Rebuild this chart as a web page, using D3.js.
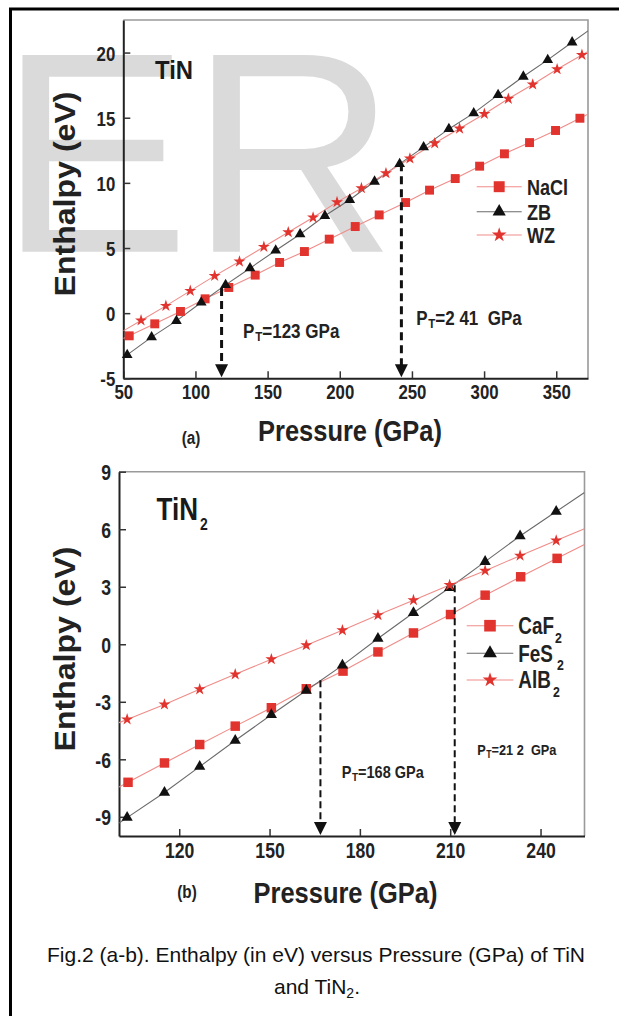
<!DOCTYPE html>
<html>
<head>
<meta charset="utf-8">
<script src="https://cdn.jsdelivr.net/npm/d3@7"></script>
<style>
  body { margin: 0; background: #fff; }
  svg { display: block; }
</style>
</head>
<body>
<script>
// ---- data ----
// (a) TiN
var naclP = [54.1, 71.8, 89.6, 106.7, 123.1, 141.4, 158.3, 175.5, 192.7, 210.7, 227.3, 245.6, 262.2, 280.0, 296.9, 314.1, 331.5, 349.5, 366.4];
var naclH = [-1.74, -0.82, 0.13, 1.10, 1.97, 2.92, 3.89, 4.73, 5.68, 6.65, 7.54, 8.49, 9.44, 10.33, 11.28, 12.23, 13.09, 14.02, 14.96];
var zbP = [52.7, 69.6, 86.8, 104.0, 120.9, 137.8, 155.6, 172.5, 189.7, 206.9, 224.1, 241.5, 258.1, 275.6, 292.8, 309.7, 327.2, 344.1, 361.0];
var zbH = [-3.20, -1.84, -0.59, 0.82, 2.17, 3.45, 4.81, 6.06, 7.47, 8.70, 10.10, 11.46, 12.74, 14.14, 15.35, 16.75, 18.16, 19.44, 20.79];
var wzP = [62.3, 79.5, 96.4, 113.3, 130.5, 147.4, 164.3, 181.5, 198.1, 215.0, 232.0, 248.6, 265.8, 283.0, 300.2, 316.8, 333.7, 350.6, 367.8];
var wzH = [-0.56, 0.56, 1.71, 2.86, 3.96, 5.09, 6.21, 7.34, 8.52, 9.59, 10.74, 11.87, 13.04, 14.17, 15.29, 16.45, 17.55, 18.72, 19.82];
var ticksXa = [50, 100, 150, 200, 250, 300, 350];
var ticksYa = [-5, 0, 5, 10, 15, 20];
var arrowsA = [{p: 118.1, h: 1.94}, {p: 242.7, h: 11.5}];
var labelsA = [{p: 133, h: -1.9, rest: "=123 GPa"}, {p: 253, h: -0.9, rest: "=2 41  GPa"}];

// (b) TiN2
var cafP = [103.0, 115.1, 126.8, 138.6, 150.6, 162.2, 174.4, 186.0, 197.8, 210.1, 221.6, 233.4, 245.5];
var cafH = [-7.20, -6.19, -5.23, -4.27, -3.31, -2.32, -1.40, -0.40, 0.59, 1.55, 2.56, 3.52, 4.48];
var fesP = [102.7, 115.1, 126.8, 138.6, 150.6, 162.2, 174.2, 186.0, 197.8, 209.8, 221.6, 233.2, 245.2];
var fesH = [-9.04, -7.73, -6.38, -5.02, -3.68, -2.41, -1.10, 0.30, 1.64, 2.95, 4.31, 5.65, 6.92];
var albP = [102.7, 115.1, 126.8, 138.6, 150.6, 162.2, 174.2, 186.0, 197.8, 209.8, 221.6, 233.2, 245.2];
var albH = [-3.92, -3.14, -2.35, -1.57, -0.78, -0.05, 0.73, 1.52, 2.30, 3.09, 3.84, 4.62, 5.41];
var ticksXb = [120, 150, 180, 210, 240];
var ticksYb = [-9, -6, -3, 0, 3, 6, 9];
var arrowsB = [{p: 166.9, h: -1.88}, {p: 211.5, h: 3.08}];
var labelsB = [{p: 174, h: -7.0, rest: "=168 GPa", fs: 17}, {p: 219, h: -5.8, rest: "=21 2  GPa", fs: 15}];

var FONT = "'Liberation Sans',Arial,Helvetica,sans-serif";
var RED = "#e2342f", RED_LINE = "#ef8c88", BLACK = "#111", GREY_LINE = "#6a6a6a";

// no narrow face is installed: squeeze bold Liberation Sans to Arial Narrow proportions
function squeeze(sel, k) {
    sel.each(function() {
        var w = this.getComputedTextLength();
        d3.select(this).attr("textLength", w * k).attr("lengthAdjust", "spacingAndGlyphs");
    });
}
function fitTo(sel, w) {
    sel.attr("textLength", w).attr("lengthAdjust", "spacingAndGlyphs");
}

var svg = d3.select("body").append("svg")
    .attr("width", 619)
    .attr("height", 1016);

// outer frame (only left & top edges fall inside the picture)
svg.append("path")
    .attr("d", "M10.5,1016 V9 H619")
    .attr("fill", "none")
    .attr("stroke", "#000")
    .attr("stroke-width", 3);

// watermark
svg.append("text")
    .attr("x", -1)
    .attr("y", 251.7)
    .attr("font-family", FONT)
    .attr("font-size", 286)
    .attr("fill", "#dadada")
    .text("ER");

function drawPanel(cfg) {
    var x = d3.scaleLinear().domain(cfg.xDomain).range([cfg.left, cfg.right]);
    var y = d3.scaleLinear().domain(cfg.yDomain).range([cfg.bottom, cfg.top]);
    var g = svg.append("g");

    var clipId = "clip" + cfg.id;
    g.append("clipPath").attr("id", clipId)
        .append("rect")
        .attr("x", cfg.left).attr("y", cfg.top)
        .attr("width", cfg.right - cfg.left).attr("height", cfg.bottom - cfg.top);

    // top/right light frame
    g.append("path")
        .attr("d", "M" + cfg.left + "," + cfg.top + " H" + cfg.right + " V" + cfg.bottom)
        .attr("fill", "none").attr("stroke", "#9a9a9a").attr("stroke-width", 1.6);

    // axes
    var fmt = function(d) { return String(d); };
    var xAxis = d3.axisBottom(x).tickValues(cfg.xTicks).tickFormat(fmt).tickSizeInner(-7).tickSizeOuter(0).tickPadding(6);
    var yAxis = d3.axisLeft(y).tickValues(cfg.yTicks).tickFormat(fmt).tickSizeInner(-7).tickSizeOuter(0).tickPadding(8);

    var gx = g.append("g").attr("transform", "translate(0," + cfg.bottom + ")").call(xAxis);
    var gy = g.append("g").attr("transform", "translate(" + cfg.left + ",0)").call(yAxis);
    [gx, gy].forEach(function(a) {
        a.select(".domain").attr("stroke", "#222").attr("stroke-width", 2);
        a.selectAll(".tick line").attr("stroke", "#333").attr("stroke-width", 1.5);
        a.selectAll(".tick text")
            .attr("font-family", FONT)
            .attr("font-weight", "bold")
            .attr("font-size", cfg.tickFs)
            .attr("fill", "#222")
            .call(squeeze, 0.8);
    });
    gy.selectAll(".tick text").attr("dy", "0.36em");
    gx.selectAll(".tick text").attr("dy", "0.72em");

    // series lines (first/last segment carried on to the frame, clipped)
    var line = d3.line().x(function(d) { return x(d[0]); }).y(function(d) { return y(d[1]); });
    cfg.series.forEach(function(s) {
        var pts = s.p.map(function(p, i) { return [p, s.h[i]]; });
        var n = pts.length;
        var a0 = pts[0], a1 = pts[1], b0 = pts[n - 2], b1 = pts[n - 1];
        var sl0 = (a1[1] - a0[1]) / (a1[0] - a0[0]);
        var sl1 = (b1[1] - b0[1]) / (b1[0] - b0[0]);
        var xl = cfg.xDomain[0], xr = cfg.xDomain[1];
        var full = [[xl, a0[1] + sl0 * (xl - a0[0])]].concat(pts, [[xr, b1[1] + sl1 * (xr - b1[0])]]);
        g.append("path")
            .attr("d", line(full))
            .attr("fill", "none")
            .attr("stroke", s.line)
            .attr("stroke-width", 1.1)
            .attr("clip-path", "url(#" + clipId + ")");
    });

    // markers
    cfg.series.forEach(function(s) {
        g.append("g").selectAll("path")
            .data(s.p.map(function(p, i) { return [p, s.h[i]]; }))
            .enter().append("path")
            .attr("transform", function(d) { return "translate(" + x(d[0]) + "," + y(d[1]) + ")"; })
            .attr("d", d3.symbol().type(s.sym).size(s.size))
            .attr("fill", s.color);
    });

    // transition arrows
    cfg.arrows.forEach(function(a) {
        var ax = x(a.p);
        g.append("line")
            .attr("x1", ax).attr("x2", ax)
            .attr("y1", y(a.h)).attr("y2", cfg.bottom - 10)
            .attr("stroke", "#111")
            .attr("stroke-width", cfg.arrowW)
            .attr("stroke-dasharray", cfg.dash);
        g.append("path")
            .attr("d", "M" + (ax - 6.5) + "," + (cfg.bottom - 14) + " L" + (ax + 6.5) + "," + (cfg.bottom - 14) + " L" + ax + "," + (cfg.bottom - 1) + "Z")
            .attr("fill", "#111");
    });

    cfg.labels.forEach(function(l) {
        var fs = l.fs || cfg.labelFs;
        var t = g.append("text")
            .attr("x", x(l.p)).attr("y", y(l.h))
            .attr("font-family", FONT).attr("font-weight", "bold")
            .attr("font-size", fs).attr("fill", "#222")
            .attr("xml:space", "preserve");
        t.append("tspan").text("P ");
        t.append("tspan").attr("font-size", fs * 0.68).attr("dy", 3).attr("dx", -fs * 0.22).text("T");
        t.append("tspan").attr("dy", -3).text(l.rest);
        t.call(squeeze, 0.82);
    });

    // legend
    cfg.series.forEach(function(s, i) {
        var ly = cfg.legend.y[i];
        g.append("line")
            .attr("x1", cfg.legend.x0).attr("x2", cfg.legend.x1)
            .attr("y1", ly).attr("y2", ly)
            .attr("stroke", s.line).attr("stroke-width", 1.1);
        g.append("path")
            .attr("transform", "translate(" + ((cfg.legend.x0 + cfg.legend.x1) / 2) + "," + ly + ")")
            .attr("d", d3.symbol().type(s.sym).size(s.size * 1.5))
            .attr("fill", s.color);
        g.append("text")
            .attr("x", cfg.legend.tx).attr("y", ly).attr("dy", "0.36em")
            .attr("font-family", FONT).attr("font-weight", "bold")
            .attr("font-size", cfg.legend.fs).attr("fill", "#222")
            .text(s.name)
            .call(squeeze, 0.82);
        if (s.sub) {
            g.append("text")
                .attr("x", cfg.legend.subX[i]).attr("y", ly + 17)
                .attr("font-family", FONT).attr("font-weight", "bold")
                .attr("font-size", 15).attr("fill", "#222")
                .text(s.sub)
                .call(squeeze, 0.82);
        }
    });

    // compound label
    g.append("text")
        .attr("x", cfg.title.x).attr("y", cfg.title.y)
        .attr("font-family", FONT).attr("font-weight", "bold")
        .attr("font-size", cfg.title.fs).attr("fill", "#1a1a1a")
        .text(cfg.title.text)
        .call(fitTo, cfg.title.w);
    if (cfg.title.sub) {
        g.append("text")
            .attr("x", cfg.title.subX).attr("y", cfg.title.y + 10)
            .attr("font-family", FONT).attr("font-weight", "bold")
            .attr("font-size", 17).attr("fill", "#1a1a1a")
            .text(cfg.title.sub)
            .call(squeeze, 0.82);
    }

    // axis titles
    g.append("text")
        .attr("transform", "translate(" + cfg.yTitle.x + "," + cfg.yTitle.y + ") rotate(-90)")
        .attr("text-anchor", "middle").attr("dy", "0.36em")
        .attr("font-family", FONT).attr("font-weight", "bold")
        .attr("font-size", 29).attr("fill", "#222")
        .text("Enthalpy (eV)")
        .call(fitTo, 205);
    g.append("text")
        .attr("x", cfg.xTitle.x).attr("y", cfg.xTitle.y).attr("dy", "0.36em")
        .attr("text-anchor", "middle")
        .attr("font-family", FONT).attr("font-weight", "bold")
        .attr("font-size", 30).attr("fill", "#222")
        .text("Pressure (GPa)")
        .call(fitTo, 184);
    g.append("text")
        .attr("x", cfg.tag.x).attr("y", cfg.tag.y).attr("dy", "0.36em")
        .attr("text-anchor", "middle")
        .attr("font-family", FONT).attr("font-weight", "bold")
        .attr("font-size", 18).attr("fill", "#222")
        .text(cfg.tag.text)
        .call(squeeze, 0.85);
}

drawPanel({
    id: "a",
    left: 123.3, right: 588, top: 20, bottom: 378.3,
    xDomain: [50, 372], yDomain: [-5, 22.5],
    xTicks: ticksXa, yTicks: ticksYa, tickFs: 21,
    series: [
        {name: "NaCl", p: naclP, h: naclH, sym: d3.symbolSquare, size: 80, color: RED, line: RED_LINE},
        {name: "ZB", p: zbP, h: zbH, sym: d3.symbolTriangle, size: 50, color: BLACK, line: GREY_LINE},
        {name: "WZ", p: wzP, h: wzH, sym: d3.symbolStar, size: 45, color: RED, line: RED_LINE}
    ],
    arrows: arrowsA, arrowW: 3, dash: "8,5",
    labels: labelsA, labelFs: 20,
    legend: {x0: 476.7, x1: 521.7, tx: 527, y: [186.7, 211.7, 235], fs: 22},
    title: {text: "TiN", x: 155, y: 79, fs: 26, w: 38},
    yTitle: {x: 65, y: 194},
    xTitle: {x: 350, y: 430},
    tag: {text: "(a)", x: 191, y: 438}
});

drawPanel({
    id: "b",
    left: 119, right: 584.5, top: 471.7, bottom: 836,
    xDomain: [100, 254.6], yDomain: [-10, 9],
    xTicks: ticksXb, yTicks: ticksYb, tickFs: 22,
    series: [
        {name: "CaF", sub: "2", p: cafP, h: cafH, sym: d3.symbolSquare, size: 90, color: RED, line: RED_LINE},
        {name: "FeS", sub: "2", p: fesP, h: fesH, sym: d3.symbolTriangle, size: 55, color: BLACK, line: GREY_LINE},
        {name: "AlB", sub: "2", p: albP, h: albH, sym: d3.symbolStar, size: 45, color: RED, line: RED_LINE}
    ],
    arrows: arrowsB, arrowW: 2, dash: "7,4",
    labels: labelsB, labelFs: 17,
    legend: {x0: 466.7, x1: 513.3, tx: 518.3, y: [625.7, 653.3, 680], fs: 23, subX: [555, 557, 553]},
    title: {text: "TiN", sub: "2", subX: 200, x: 156.5, y: 520, fs: 31, w: 41.5},
    yTitle: {x: 65, y: 649},
    xTitle: {x: 345.5, y: 892},
    tag: {text: "(b)", x: 187, y: 892}
});

// caption
var cap = svg.append("g")
    .attr("font-family", FONT)
    .attr("font-size", 21)
    .attr("fill", "#111")
    .attr("text-anchor", "middle");
cap.append("text").attr("x", 316).attr("y", 962)
    .text("Fig.2 (a-b). Enthalpy (in eV) versus Pressure (GPa) of TiN");
var c2 = cap.append("text").attr("x", 317).attr("y", 994);
c2.append("tspan").text("and TiN");
c2.append("tspan").attr("font-size", 14).attr("dy", 4).text("2");
c2.append("tspan").attr("dy", -4).text(".");
</script>
</body>
</html>
